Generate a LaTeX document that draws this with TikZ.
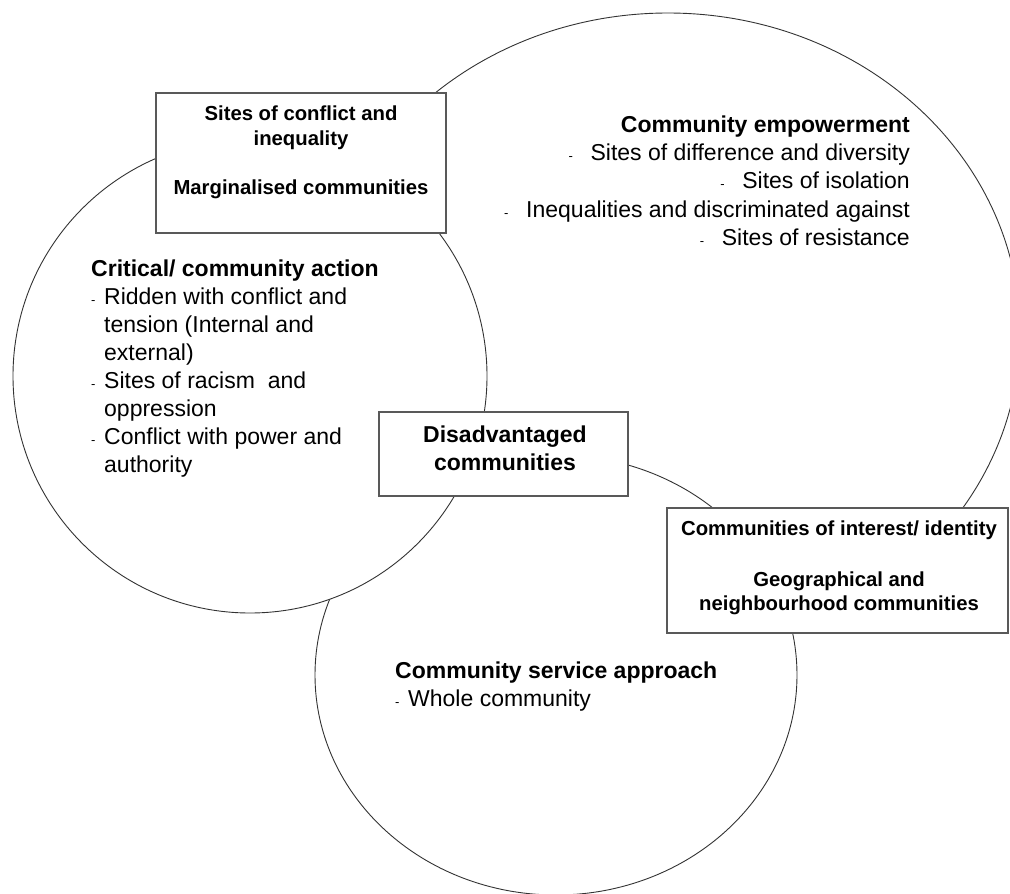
\documentclass[tikz,border=0pt]{standalone}
\usepackage{fontspec}
\setmainfont{Liberation Sans}
\begin{document}
\begin{tikzpicture}[x=1pt,y=-1pt,
  ring/.style={draw=black!80, line width=0.9pt, fill=white},
  tbox/.style={draw=black!65, line width=1.3pt, fill=white, inner sep=0pt},
  head/.style={font=\fontsize{23pt}{28pt}\selectfont\bfseries, inner sep=0pt},
  item/.style={font=\fontsize{23pt}{28pt}\selectfont, inner sep=0pt},
  boxtxt/.style={font=\fontsize{20.3pt}{24.5pt}\selectfont\bfseries, inner sep=0pt},
  dsh/.style={font=\fontsize{13pt}{14pt}\selectfont, inner sep=0pt}
]
\useasboundingbox (0,0) rectangle (1010,894);
\clip (0,0) rectangle (1010,894);
\fill[white] (0,0) rectangle (1010,894);

% circles
\draw[ring] (668,333) ellipse [x radius=352pt, y radius=320pt];
\draw[ring] (556,675) ellipse [x radius=241pt, y radius=220pt];
\draw[ring] (250,376) circle [radius=237pt];

% boxes
\node[tbox, minimum width=290pt, minimum height=140pt] (sites) at (301,163) {};
\node[tbox, minimum width=249pt, minimum height=84pt] (disadv) at (503.5,454) {};
\node[tbox, minimum width=341pt, minimum height=125pt] (commun) at (837.5,570.5) {};

% box texts
\node[boxtxt, anchor=base] (s1) at (301,120) {Sites of conflict and};
\node[boxtxt, anchor=base] (s2) at (301,145) {inequality};
\node[boxtxt, anchor=base] (s3) at (301,194) {Marginalised communities};

\node[head, anchor=base] (d1) at (505,442) {Disadvantaged};
\node[head, anchor=base] (d2) at (505,470) {communities};

\node[boxtxt, anchor=base] (c1) at (839,535) {Communities of interest/ identity};
\node[boxtxt, anchor=base] (c2) at (839,586) {Geographical and};
\node[boxtxt, anchor=base] (c3) at (839,610) {neighbourhood communities};

% critical / community action
\node[head, anchor=base west] (k0) at (91,276) {Critical/ community action};
\node[item, anchor=base west] (k1) at (104,304) {Ridden with conflict and};
\node[item, anchor=base west] (k2) at (104,332) {tension (Internal and};
\node[item, anchor=base west] (k3) at (104,360) {external)};
\node[item, anchor=base west] (k4) at (104,388) {Sites of racism\ \ and};
\node[item, anchor=base west] (k5) at (104,416) {oppression};
\node[item, anchor=base west] (k6) at (104,444) {Conflict with power and};
\node[item, anchor=base west] (k7) at (104,472) {authority};
\node[dsh, anchor=base west] (k1d) at (91,304) {-};
\node[dsh, anchor=base west] (k4d) at (91,388) {-};
\node[dsh, anchor=base west] (k6d) at (91,444) {-};

% community empowerment
\node[head, anchor=base east] (e0) at (910,132) {Community empowerment};
\node[item, anchor=base east] (e1) at (910,160) {Sites of difference and diversity};
\node[item, anchor=base east] (e2) at (910,188) {Sites of isolation};
\node[item, anchor=base east] (e3) at (910,217) {Inequalities and discriminated against};
\node[item, anchor=base east] (e4) at (910,245) {Sites of resistance};
\node[dsh, anchor=base west] (e1d) at ([xshift=-22pt]e1.base west) {-};
\node[dsh, anchor=base west] (e2d) at ([xshift=-22pt]e2.base west) {-};
\node[dsh, anchor=base west] (e3d) at ([xshift=-22pt]e3.base west) {-};
\node[dsh, anchor=base west] (e4d) at ([xshift=-22pt]e4.base west) {-};

% community service approach
\node[head, anchor=base west] (v0) at (395,678) {Community service approach};
\node[item, anchor=base west] (v1) at (408,706) {Whole community};
\node[dsh, anchor=base west] (v1d) at (395,706) {-};
\end{tikzpicture}
\end{document}
